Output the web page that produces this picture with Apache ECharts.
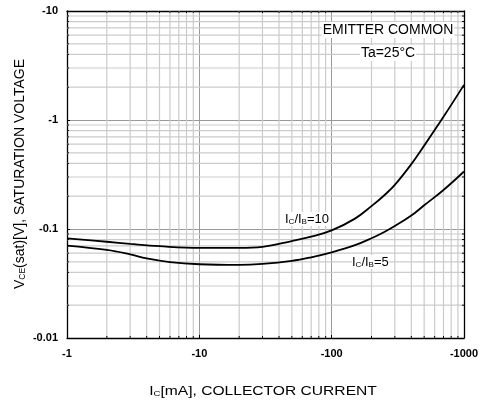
<!DOCTYPE html>
<html><head><meta charset="utf-8">
<script src="https://cdn.jsdelivr.net/npm/echarts@6/dist/echarts.min.js"></script>
<style>html,body{margin:0;padding:0;background:#fff}#c{width:482px;height:405px}</style>
</head><body><div id="c"></div>
<script>
// ---- data ----
const icIB10  = [1, 2, 3, 5, 10, 20, 30, 50, 70, 100, 150, 200, 250, 300, 400, 500, 700, 1000];
const vceIB10 = [0.082, 0.0764, 0.073, 0.0695, 0.067, 0.067, 0.0685, 0.0775, 0.0851, 0.097, 0.1245, 0.162, 0.204, 0.254, 0.394, 0.582, 1.07, 2.1];
const icIB5   = [1, 2, 3, 4, 6, 10, 20, 30, 50, 70, 100, 150, 200, 250, 300, 400, 500, 700, 1000];
const vceIB5  = [0.0703, 0.0642, 0.0585, 0.0537, 0.0497, 0.0475, 0.0468, 0.0478, 0.051, 0.055, 0.061, 0.071, 0.0822, 0.094, 0.1064, 0.133, 0.165, 0.228, 0.337];
const xTickLabels = ['-1', '-10', '-100', '-1000'];      // 1, 10, 100, 1000
const yTickLabels = ['-0.01', '-0.1', '-1', '-10'];      // 0.01 .. 10
const minorX = [2,3,4,5,6,7,8,9,20,30,40,50,60,70,80,90,200,300,400,500,600,700,800,900];
const minorY = [0.02,0.03,0.04,0.05,0.06,0.07,0.08,0.09,0.2,0.3,0.4,0.5,0.6,0.7,0.8,0.9,2,3,4,5,6,7,8,9];

const FONT = 'Liberation Sans, Arial, sans-serif';
const chart = echarts.init(document.getElementById('c'), null, {renderer: 'canvas'});

function zip(a, b) { return a.map((v, i) => [v, b[i]]); }

const axisLine = {show: true, lineStyle: {color: '#000', width: 1.3}};
const richSub = {
  n: {fontFamily: FONT, fontSize: 13, lineHeight: 14, fill: '#000'},
  s: {fontFamily: FONT, fontSize: 8, lineHeight: 5, verticalAlign: 'bottom', fill: '#000'}
};
const richSub14 = {
  n: {fontFamily: FONT, fontSize: 14, lineHeight: 15, fill: '#000'},
  s: {fontFamily: FONT, fontSize: 8.5, lineHeight: 5, verticalAlign: 'bottom', fill: '#000'}
};
const option = {
  animation: false,
  backgroundColor: '#fff',
  grid: {left: 67, right: 18, top: 11, bottom: 67, containLabel: false},
  xAxis: [{
    type: 'log', logBase: 10, min: 1, max: 1000, position: 'bottom',
    axisLine: axisLine,
    axisTick: {show: true, inside: true, length: 3, lineStyle: {color: '#000'}},
    splitLine: {show: true, lineStyle: {color: '#999', width: 1}},
    axisLabel: {margin: 10, fontFamily: FONT, fontWeight: 'bold', fontSize: 11, color: '#000',
      formatter: v => xTickLabels[Math.round(Math.log10(v))]}
  }, {
    type: 'log', logBase: 10, min: 1, max: 1000, position: 'top',
    axisLine: axisLine, axisTick: {show: false}, axisLabel: {show: false}, splitLine: {show: false}
  }],
  yAxis: [{
    type: 'log', logBase: 10, min: 0.01, max: 10, position: 'left',
    axisLine: axisLine,
    axisTick: {show: true, inside: true, length: 3, lineStyle: {color: '#000'}},
    splitLine: {show: true, lineStyle: {color: '#999', width: 1}},
    axisLabel: {margin: 9, fontFamily: FONT, fontWeight: 'bold', fontSize: 11, color: '#000',
      formatter: v => yTickLabels[Math.round(Math.log10(v)) + 2]}
  }, {
    type: 'log', logBase: 10, min: 0.01, max: 10, position: 'right',
    axisLine: axisLine, axisTick: {show: false}, axisLabel: {show: false}, splitLine: {show: false}
  }],
  series: [
    {
      type: 'custom', z: 1, silent: true, xAxisIndex: 0, yAxisIndex: 0,
      data: minorX.map(v => [v, 1]),
      renderItem: function (params, api) {
        const cs = params.coordSys;
        const x = api.coord([api.value(0), 1])[0];
        return {type: 'group', children: [
          {type: 'line', shape: {x1: x, y1: cs.y, x2: x, y2: cs.y + cs.height}, style: {stroke: '#cbcbcb', lineWidth: 1.2}},
          {type: 'line', shape: {x1: x, y1: cs.y, x2: x, y2: cs.y + 2}, style: {stroke: '#000', lineWidth: 1}},
          {type: 'line', shape: {x1: x, y1: cs.y + cs.height - 2, x2: x, y2: cs.y + cs.height}, style: {stroke: '#000', lineWidth: 1}}
        ]};
      }
    },
    {
      type: 'custom', z: 1, silent: true, xAxisIndex: 0, yAxisIndex: 0,
      data: minorY.map(v => [1, v]),
      renderItem: function (params, api) {
        const cs = params.coordSys;
        const y = api.coord([1, api.value(1)])[1];
        return {type: 'group', children: [
          {type: 'line', shape: {x1: cs.x, y1: y, x2: cs.x + cs.width, y2: y}, style: {stroke: '#cbcbcb', lineWidth: 1.2}},
          {type: 'line', shape: {x1: cs.x, y1: y, x2: cs.x + 2, y2: y}, style: {stroke: '#000', lineWidth: 1}},
          {type: 'line', shape: {x1: cs.x + cs.width - 2, y1: y, x2: cs.x + cs.width, y2: y}, style: {stroke: '#000', lineWidth: 1}}
        ]};
      }
    },
    {
      name: 'IC/IB=10', type: 'line', z: 5, data: zip(icIB10, vceIB10), smooth: 0.4,
      showSymbol: false, lineStyle: {color: '#000', width: 1.8}
    },
    {
      name: 'IC/IB=5', type: 'line', z: 5, data: zip(icIB5, vceIB5), smooth: 0.4,
      showSymbol: false, lineStyle: {color: '#000', width: 1.8}
    }
  ],
  graphic: [
    {type: 'text', x: 20, y: 174, rotation: Math.PI / 2, z: 10,
      style: {text: '{n|V}{s|CE}{n|(sat)[V], SATURATION VOLTAGE}', align: 'center', verticalAlign: 'middle', rich: richSub14}},
    {type: 'text', x: 263, y: 391, scaleX: 1.2, z: 10,
      style: {text: '{n|I}{s|C}{n|[mA], COLLECTOR CURRENT}', align: 'center', verticalAlign: 'middle', rich: richSub}},
    {type: 'text', x: 388, y: 30, z: 10,
      style: {text: 'EMITTER COMMON', align: 'center', verticalAlign: 'middle', font: '14px ' + FONT,
        fill: '#000', backgroundColor: '#fff', padding: [1, 1, 1, 1]}},
    {type: 'text', x: 388, y: 53, z: 10,
      style: {text: 'Ta=25°C', align: 'center', verticalAlign: 'middle', font: '14px ' + FONT,
        fill: '#000', backgroundColor: '#fff', padding: [1, 1, 1, 1]}},
    {type: 'text', x: 285, y: 219, z: 10,
      style: {text: '{n|I}{s|C}{n|/I}{s|B}{n|=10}', align: 'left', verticalAlign: 'middle', backgroundColor: '#fff', rich: richSub}},
    {type: 'text', x: 352, y: 262, z: 10,
      style: {text: '{n|I}{s|C}{n|/I}{s|B}{n|=5}', align: 'left', verticalAlign: 'middle', backgroundColor: '#fff', rich: richSub}}
  ]
};
chart.setOption(option);
</script>
</body></html>
